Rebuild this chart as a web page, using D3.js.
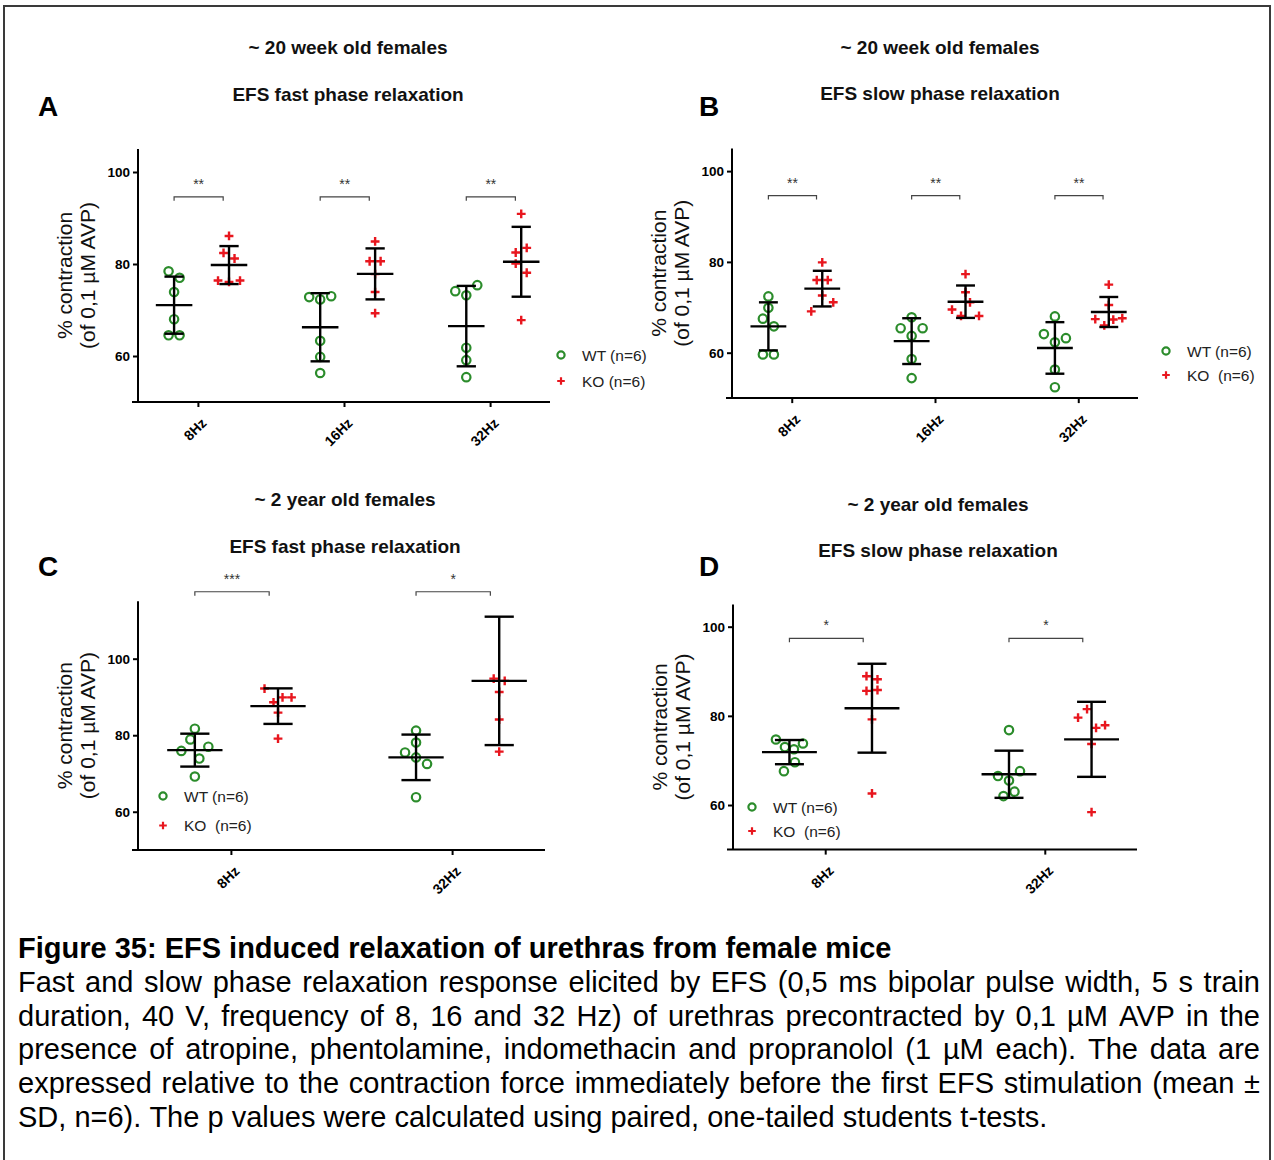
<!DOCTYPE html>
<html>
<head>
<meta charset="utf-8">
<script src="https://cdn.jsdelivr.net/npm/d3@7"></script>
<style>
  body { margin: 0; background: #fff; }
  svg { display: block; font-family: Arial, "Liberation Sans", sans-serif; }
</style>
</head>
<body>
<svg id="fig" width="1274" height="1160"></svg>
<script>
// ---- Stimulation frequencies ----
const freq3 = ["8Hz", "16Hz", "32Hz"];
const freq2 = ["8Hz", "32Hz"];

// ---- Individual responses, % contraction (one array per frequency) ----
// A: ~20 week old females, fast phase relaxation
const wtFast20 = [[78.4, 77.0, 73.9, 68.0, 64.5, 64.5],
                  [72.8, 72.3, 73.0, 63.3, 59.8, 56.3],
                  [74.1, 73.2, 75.4, 61.8, 59.1, 55.4]];
const koFast20 = [[86.1, 82.4, 81.2, 76.4, 76.1, 76.4],
                  [84.9, 80.6, 80.6, 77.8, 73.9, 69.3],
                  [90.9, 82.5, 83.5, 80.1, 78.1, 67.8]];
// B: ~20 week old females, slow phase relaxation
const wtSlow20 = [[72.4, 69.9, 67.5, 65.8, 59.6, 59.6],
                  [67.8, 65.4, 63.7, 65.4, 58.6, 54.4],
                  [68.0, 64.1, 62.3, 63.2, 56.3, 52.4]];
const koSlow20 = [[79.9, 76.0, 76.0, 69.1, 72.6, 71.1],
                  [77.3, 73.3, 69.5, 68.1, 71.1, 68.1],
                  [75.0, 70.5, 67.4, 66.0, 67.3, 67.6]];
// C: ~2 year old females, fast phase relaxation
const wtFast2y = [[81.7, 75.9, 78.9, 73.9, 77.0, 69.2],
                  [81.2, 78.1, 75.5, 74.2, 72.5, 63.8]];
const koFast2y = [[92.2, 88.6, 89.9, 89.9, 85.9, 79.1],
                  [94.8, 94.2, 91.3, 84.1, 75.7, 125.1]];
// D: ~2 year old females, slow phase relaxation
const wtSlow2y = [[74.7, 73.0, 72.5, 73.8, 67.6, 69.6],
                  [76.8, 66.5, 65.5, 67.6, 62.0, 63.0]];
const koSlow2y = [[88.9, 88.2, 85.6, 85.8, 79.2, 62.6],
                  [79.6, 81.5, 77.3, 77.9, 73.7, 58.4]];

// ---- Significance marks (WT vs KO, per frequency) ----
const sigFast20 = ["**", "**", "**"];
const sigSlow20 = ["**", "**", "**"];
const sigFast2y = ["***", "*"];
const sigSlow2y = ["*", "*"];

// ---- Axis ticks and text ----
const yTicks = [60, 80, 100];
const yTitle = ["% contraction", "(of 0,1 \u00B5M AVP)"];
const legendA = ["WT (n=6)", "KO (n=6)"];
const legendB = ["WT (n=6)", "KO  (n=6)"];

const captionTitle = "Figure 35: EFS induced relaxation of urethras from female mice";
const captionLines = [
  "Fast and slow phase relaxation response elicited by EFS (0,5 ms bipolar pulse width, 5 s train",
  "duration, 40 V, frequency of 8, 16 and 32 Hz) of urethras precontracted by 0,1 \u00B5M AVP in the",
  "presence of atropine, phentolamine, indomethacin and propranolol (1 \u00B5M each). The data are",
  "expressed relative to the contraction force immediately before the first EFS stimulation (mean \u00B1",
  "SD, n=6). The p values were calculated using paired, one-tailed students t-tests."
];

const GREEN = "#2b8c2b", RED = "#e8161e";

const svg = d3.select("#fig");

// Frame around the whole figure
svg.append("rect").attr("x", 4).attr("y", 6).attr("width", 1266).attr("height", 1200)
  .attr("fill", "none").attr("stroke", "#3a3a3a").attr("stroke-width", 2);

// Spread points that would overlap: nearby values form a cluster laid out side by side
function dodge(vals, y, domain) {
  const inRange = v => v >= domain[0] && v <= domain[1];
  const idx = vals.map((v, i) => i).filter(i => inRange(vals[i]))
    .sort((a, b) => vals[b] - vals[a]);
  const off = vals.map(() => null);
  const clusters = [];
  let cur = [];
  idx.forEach((i, k) => {
    if (k > 0 && Math.abs(y(vals[idx[k - 1]]) - y(vals[i])) < 9.5) cur.push(i);
    else { if (cur.length) clusters.push(cur); cur = [i]; }
  });
  if (cur.length) clusters.push(cur);
  clusters.forEach(c => {
    c.sort((a, b) => a - b);
    const s = c.length > 3 ? 9 : 11;
    c.forEach((i, j) => { off[i] = (j - (c.length - 1) / 2) * s; });
  });
  return off;
}

function panel(cfg) {
  const g = svg.append("g");
  const x = d3.scalePoint().domain(cfg.cats).range(cfg.xr).padding(cfg.pad);
  const y = d3.scaleLinear().domain(cfg.domain).range(cfg.yr);
  const step = x.step();
  const off = { wt: -0.163 * step, ko: 0.213 * step };

  // titles and panel letter
  g.append("text").attr("x", cfg.tx).attr("y", cfg.t1y).attr("text-anchor", "middle")
    .attr("font-size", 19).attr("font-weight", "bold").attr("fill", "#111").text(cfg.title1);
  g.append("text").attr("x", cfg.tx).attr("y", cfg.t2y).attr("text-anchor", "middle")
    .attr("font-size", 19).attr("font-weight", "bold").attr("fill", "#111").text(cfg.title2);
  g.append("text").attr("x", cfg.lx).attr("y", cfg.ly)
    .attr("font-size", 28).attr("font-weight", "bold").attr("fill", "#000").text(cfg.letter);

  // y axis
  const yAxis = g.append("g").attr("transform", `translate(${cfg.xr[0]},0)`)
    .call(d3.axisLeft(y).tickValues(yTicks).tickSize(5).tickPadding(3));
  yAxis.select(".domain").attr("stroke", "#000").attr("stroke-width", 2)
    .attr("d", `M0,${cfg.yr[1]}V${cfg.yr[0]}`);
  yAxis.selectAll(".tick line").attr("stroke", "#000").attr("stroke-width", 2);
  yAxis.selectAll(".tick text").attr("font-size", 13.5).attr("font-weight", "bold")
    .attr("fill", "#000").style("font-family", "Arial, 'Liberation Sans', sans-serif");

  // x axis
  const xAxis = g.append("g").attr("transform", `translate(0,${cfg.yr[0]})`)
    .call(d3.axisBottom(x).tickSize(5).tickSizeOuter(0));
  xAxis.select(".domain").attr("stroke", "#000").attr("stroke-width", 2)
    .attr("d", `M${cfg.xr[0] - 6},0H${cfg.xr[1]}`);
  xAxis.selectAll(".tick line").attr("stroke", "#000").attr("stroke-width", 2);
  xAxis.selectAll(".tick text")
    .attr("font-size", 14).attr("font-weight", "bold").attr("fill", "#000")
    .style("font-family", "Arial, 'Liberation Sans', sans-serif")
    .attr("text-anchor", "end").attr("dy", null).attr("y", 0)
    .attr("transform", "translate(9,22) rotate(-45)");

  // y-axis title
  yTitle.forEach((t, i) => {
    g.append("text")
      .attr("transform", `translate(${cfg.xr[0] - 66 + i * 23},${(cfg.yr[0] + cfg.yr[1]) / 2}) rotate(-90)`)
      .attr("text-anchor", "middle").attr("font-size", 21).attr("fill", "#111").text(t);
  });

  // scatter, mean and SD for each group
  cfg.cats.forEach((c, ci) => {
    const cx = x(c);
    [["wt", cfg.wt[ci]], ["ko", cfg.ko[ci]]].forEach(([key, vals]) => {
      const gx = cx + off[key];
      const o = dodge(vals, y, cfg.domain);
      const pts = vals.map((v, i) => ({ v, dx: o[i] })).filter(p => p.dx !== null);
      if (key === "wt") {
        g.selectAll(null).data(pts).join("circle")
          .attr("cx", p => gx + p.dx).attr("cy", p => y(p.v)).attr("r", 4.2)
          .attr("fill", "#fff").attr("stroke", GREEN).attr("stroke-width", 2.2);
      } else {
        g.selectAll(null).data(pts).join("path")
          .attr("d", p => `M${gx + p.dx - 4.4},${y(p.v)}h8.8M${gx + p.dx},${y(p.v) - 4.4}v8.8`)
          .attr("stroke", RED).attr("stroke-width", 2.4).attr("fill", "none");
      }
      const m = d3.mean(vals), sd = d3.deviation(vals);
      const mw = 0.125 * step, cw = 0.066 * step;
      const lines = [
        [gx - mw, y(m), gx + mw, y(m)],
        [gx, y(m + sd), gx, y(m - sd)],
        [gx - cw, y(m + sd), gx + cw, y(m + sd)],
        [gx - cw, y(m - sd), gx + cw, y(m - sd)]
      ];
      g.selectAll(null).data(lines).join("line")
        .attr("x1", d => d[0]).attr("y1", d => d[1]).attr("x2", d => d[2]).attr("y2", d => d[3])
        .attr("stroke", "#000").attr("stroke-width", 2.4);
    });

    // significance bracket
    const bx0 = cx + off.wt, bx1 = cx + off.ko - 0.04 * step, by = y(cfg.bracket);
    g.append("path").attr("d", `M${bx0},${by + 4}V${by}H${bx1}V${by + 4}`)
      .attr("fill", "none").attr("stroke", "#444").attr("stroke-width", 1.2);
    g.append("text").attr("x", (bx0 + bx1) / 2).attr("y", by - 8).attr("text-anchor", "middle")
      .attr("font-size", 14).attr("fill", "#333").text(cfg.sig[ci]);
  });

  // legend
  const lg = g.append("g").attr("transform", `translate(${cfg.leg[0]},${cfg.leg[1]})`);
  lg.append("circle").attr("cx", 0).attr("cy", 0).attr("r", 3.6)
    .attr("fill", "#fff").attr("stroke", GREEN).attr("stroke-width", 2.2);
  lg.append("path").attr("d", `M-3.8,${cfg.leg[2]}h7.6M0,${cfg.leg[2] - 3.8}v7.6`)
    .attr("stroke", RED).attr("stroke-width", 2.2);
  cfg.legend.forEach((t, i) => {
    lg.append("text").attr("x", 21).attr("y", i * cfg.leg[2] + 5.5)
      .attr("font-size", 15.5).attr("fill", "#222").style("white-space", "pre").text(t);
  });
}

panel({ cats: freq3, xr: [138, 550], pad: 0.41, yr: [402, 149], domain: [50, 105],
  wt: wtFast20, ko: koFast20, sig: sigFast20, bracket: 94.6,
  title1: "~ 20 week old females", title2: "EFS fast phase relaxation", tx: 348, t1y: 54, t2y: 101,
  letter: "A", lx: 38, ly: 116, legend: legendA, leg: [561, 355, 26] });

panel({ cats: freq3, xr: [732, 1138], pad: 0.417, yr: [398.1, 148.4], domain: [50, 105],
  wt: wtSlow20, ko: koSlow20, sig: sigSlow20, bracket: 94.6,
  title1: "~ 20 week old females", title2: "EFS slow phase relaxation", tx: 940, t1y: 54, t2y: 100,
  letter: "B", lx: 699, ly: 116, legend: legendB, leg: [1166, 351, 24] });

panel({ cats: freq2, xr: [138, 545], pad: 0.42, yr: [850, 601.3], domain: [50, 115],
  wt: wtFast2y, ko: koFast2y, sig: sigFast2y, bracket: 117.5,
  title1: "~ 2 year old females", title2: "EFS fast phase relaxation", tx: 345, t1y: 506, t2y: 553,
  letter: "C", lx: 38, ly: 576, legend: legendB, leg: [163, 796, 29.5] });

panel({ cats: freq2, xr: [733, 1137], pad: 0.42, yr: [849.6, 604.4], domain: [50, 105],
  wt: wtSlow2y, ko: koSlow2y, sig: sigSlow2y, bracket: 97.4,
  title1: "~ 2 year old females", title2: "EFS slow phase relaxation", tx: 938, t1y: 511, t2y: 557,
  letter: "D", lx: 699, ly: 576, legend: legendB, leg: [752, 807, 24] });

// ---- Caption: bold heading and justified body text ----
const capX0 = 18, capX1 = 1260, capSize = 29;
svg.append("text").attr("x", capX0).attr("y", 958).attr("font-size", capSize)
  .attr("font-weight", "bold").attr("fill", "#000").text(captionTitle);

captionLines.forEach((line, li) => {
  const base = 992 + li * 33.7;
  const words = line.split(" ");
  const tg = svg.append("g");
  const nodes = words.map(w => tg.append("text").attr("y", base)
    .attr("font-size", capSize).attr("fill", "#000").text(w));
  const widths = nodes.map(n => n.node().getComputedTextLength());
  const total = d3.sum(widths);
  const last = li === captionLines.length - 1;
  const gap = last ? 0.278 * capSize : (capX1 - capX0 - total) / (words.length - 1);
  let xx = capX0;
  nodes.forEach((n, j) => { n.attr("x", xx); xx += widths[j] + gap; });
});
</script>
</body>
</html>
